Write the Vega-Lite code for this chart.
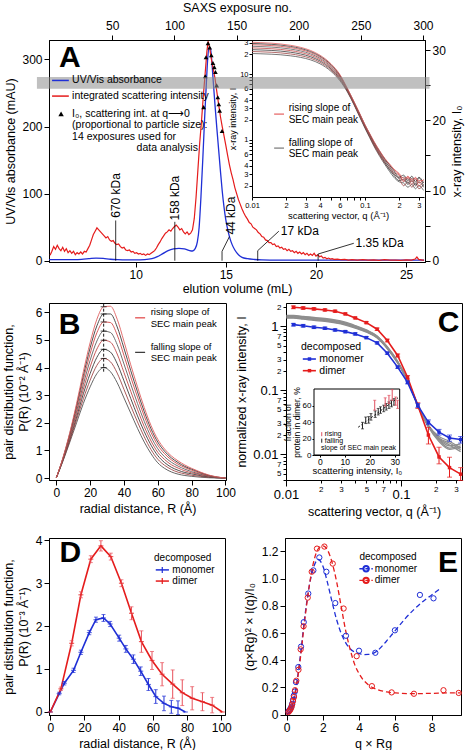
{
"$schema": "https://vega.github.io/schema/vega-lite/v6.json",
"background": "white",
"padding": {"left": 2, "top": 0, "right": 0, "bottom": 0},
"config": {
  "font": "Liberation Sans",
  "view": {"stroke": "black", "strokeWidth": 1},
  "axis": {"grid": false, "domainColor": "black", "domainWidth": 1, "tickColor": "black", "tickWidth": 1, "tickSize": 5, "labelColor": "black", "titleColor": "black", "labelFontSize": 12, "titleFontSize": 12.5, "titleFontWeight": "normal", "labelPadding": 2, "titlePadding": 4, "labelFont": "Liberation Sans", "titleFont": "Liberation Sans", "labelOverlap": false, "labelFlush": false, "labelBound": 40, "labelSeparation": -40},
  "text": {"font": "Liberation Sans", "fontSize": 10, "color": "black"}
},
"datasets": {
  "one": [{}],
  "uv": [{"mL":5.2,"mAU":1.5},{"mL":5.6,"mAU":1.5},{"mL":6.0,"mAU":1.5},{"mL":6.5,"mAU":1.6},{"mL":7.0,"mAU":2},{"mL":7.4,"mAU":3},{"mL":7.8,"mAU":4},{"mL":8.2,"mAU":3.4},{"mL":8.6,"mAU":2.2},{"mL":9.0,"mAU":1.6},{"mL":9.5,"mAU":1.3},{"mL":10.0,"mAU":1.3},{"mL":10.5,"mAU":1.6},{"mL":10.9,"mAU":3},{"mL":11.2,"mAU":6},{"mL":11.5,"mAU":10.5},{"mL":11.8,"mAU":15},{"mL":12.1,"mAU":17.5},{"mL":12.4,"mAU":18.3},{"mL":12.7,"mAU":17.5},{"mL":12.95,"mAU":15.5},{"mL":13.15,"mAU":14.5},{"mL":13.3,"mAU":18},{"mL":13.42,"mAU":28},{"mL":13.52,"mAU":50},{"mL":13.62,"mAU":95},{"mL":13.72,"mAU":150},{"mL":13.82,"mAU":210},{"mL":13.92,"mAU":265},{"mL":14.0,"mAU":303},{"mL":14.08,"mAU":318},{"mL":14.15,"mAU":316},{"mL":14.22,"mAU":298},{"mL":14.3,"mAU":268},{"mL":14.4,"mAU":232},{"mL":14.5,"mAU":198},{"mL":14.6,"mAU":166},{"mL":14.7,"mAU":134},{"mL":14.8,"mAU":104},{"mL":14.9,"mAU":80},{"mL":15.0,"mAU":61},{"mL":15.1,"mAU":47},{"mL":15.2,"mAU":36},{"mL":15.35,"mAU":24},{"mL":15.5,"mAU":16},{"mL":15.7,"mAU":9},{"mL":15.9,"mAU":5},{"mL":16.2,"mAU":3},{"mL":16.6,"mAU":1.8},{"mL":17.0,"mAU":1.2},{"mL":18,"mAU":0.9},{"mL":20,"mAU":0.8},{"mL":22,"mAU":0.8},{"mL":24,"mAU":0.8},{"mL":26,"mAU":0.8}],
  "sc": [{"mL":5.25,"v":8},{"mL":5.35,"v":14},{"mL":5.45,"v":21},{"mL":5.55,"v":17},{"mL":5.65,"v":23},{"mL":5.75,"v":18},{"mL":5.85,"v":15},{"mL":5.95,"v":20},{"mL":6.05,"v":14},{"mL":6.15,"v":18},{"mL":6.25,"v":12},{"mL":6.35,"v":15},{"mL":6.45,"v":11},{"mL":6.55,"v":14},{"mL":6.65,"v":9},{"mL":6.75,"v":12},{"mL":6.85,"v":10},{"mL":6.95,"v":13},{"mL":7.05,"v":10},{"mL":7.15,"v":14},{"mL":7.25,"v":13},{"mL":7.35,"v":18},{"mL":7.45,"v":23},{"mL":7.55,"v":31},{"mL":7.65,"v":39},{"mL":7.75,"v":44},{"mL":7.85,"v":49},{"mL":7.95,"v":46},{"mL":8.05,"v":43},{"mL":8.15,"v":40},{"mL":8.25,"v":37},{"mL":8.35,"v":34},{"mL":8.45,"v":36},{"mL":8.55,"v":31},{"mL":8.65,"v":29},{"mL":8.75,"v":30},{"mL":8.85,"v":26},{"mL":8.95,"v":24},{"mL":9.05,"v":25},{"mL":9.15,"v":21},{"mL":9.25,"v":19},{"mL":9.35,"v":20},{"mL":9.45,"v":16},{"mL":9.55,"v":15},{"mL":9.65,"v":16},{"mL":9.75,"v":13},{"mL":9.85,"v":14},{"mL":9.95,"v":11},{"mL":10.05,"v":12},{"mL":10.15,"v":10},{"mL":10.25,"v":11},{"mL":10.35,"v":9},{"mL":10.45,"v":10},{"mL":10.55,"v":8},{"mL":10.65,"v":10},{"mL":10.75,"v":9},{"mL":10.85,"v":11},{"mL":10.95,"v":13},{"mL":11.05,"v":15},{"mL":11.15,"v":19},{"mL":11.25,"v":24},{"mL":11.35,"v":28},{"mL":11.45,"v":33},{"mL":11.55,"v":37},{"mL":11.65,"v":41},{"mL":11.75,"v":43},{"mL":11.85,"v":46},{"mL":11.95,"v":44},{"mL":12.05,"v":48},{"mL":12.15,"v":51},{"mL":12.25,"v":53},{"mL":12.35,"v":50},{"mL":12.45,"v":46},{"mL":12.55,"v":48},{"mL":12.65,"v":43},{"mL":12.75,"v":40},{"mL":12.85,"v":43},{"mL":12.95,"v":39},{"mL":13.05,"v":41},{"mL":13.15,"v":46},{"mL":13.25,"v":63},{"mL":13.35,"v":95},{"mL":13.45,"v":135},{"mL":13.55,"v":175},{"mL":13.65,"v":208},{"mL":13.75,"v":245},{"mL":13.85,"v":278},{"mL":13.95,"v":312},{"mL":14.02,"v":327},{"mL":14.1,"v":318},{"mL":14.2,"v":300},{"mL":14.3,"v":286},{"mL":14.4,"v":272},{"mL":14.5,"v":252},{"mL":14.6,"v":233},{"mL":14.7,"v":215},{"mL":14.8,"v":200},{"mL":14.9,"v":186},{"mL":15.0,"v":172},{"mL":15.1,"v":157},{"mL":15.2,"v":143},{"mL":15.3,"v":131},{"mL":15.4,"v":121},{"mL":15.5,"v":109},{"mL":15.6,"v":100},{"mL":15.7,"v":91},{"mL":15.8,"v":84},{"mL":15.9,"v":77},{"mL":16.0,"v":71},{"mL":16.1,"v":66},{"mL":16.2,"v":62},{"mL":16.3,"v":57},{"mL":16.4,"v":55},{"mL":16.5,"v":50},{"mL":16.6,"v":48},{"mL":16.7,"v":46},{"mL":16.8,"v":42},{"mL":16.9,"v":40},{"mL":17.0,"v":36},{"mL":17.1,"v":35},{"mL":17.2,"v":31},{"mL":17.3,"v":30},{"mL":17.4,"v":27},{"mL":17.5,"v":27},{"mL":17.6,"v":24},{"mL":17.7,"v":25},{"mL":17.8,"v":21},{"mL":17.9,"v":22},{"mL":18.0,"v":19},{"mL":18.1,"v":20},{"mL":18.2,"v":17},{"mL":18.3,"v":18},{"mL":18.4,"v":15},{"mL":18.5,"v":17},{"mL":18.6,"v":14},{"mL":18.7,"v":15},{"mL":18.8,"v":12},{"mL":18.9,"v":14},{"mL":19.0,"v":11},{"mL":19.1,"v":13},{"mL":19.2,"v":10},{"mL":19.3,"v":12},{"mL":19.4,"v":9},{"mL":19.5,"v":11},{"mL":19.6,"v":8},{"mL":19.7,"v":10},{"mL":19.8,"v":8},{"mL":19.9,"v":11},{"mL":20.0,"v":7},{"mL":20.1,"v":9},{"mL":20.2,"v":6},{"mL":20.3,"v":7},{"mL":20.4,"v":4},{"mL":20.5,"v":5},{"mL":20.6,"v":3},{"mL":20.7,"v":4},{"mL":20.8,"v":2.5},{"mL":20.9,"v":3},{"mL":21.0,"v":2},{"mL":21.2,"v":2.5},{"mL":21.4,"v":1.5},{"mL":21.6,"v":2},{"mL":21.8,"v":1},{"mL":22.0,"v":1.5},{"mL":22.3,"v":0.8},{"mL":22.6,"v":1.5},{"mL":22.9,"v":0.8},{"mL":23.2,"v":1.2},{"mL":23.5,"v":0.5},{"mL":23.8,"v":1.5},{"mL":24.1,"v":0.8},{"mL":24.4,"v":1.0},{"mL":24.7,"v":0.5},{"mL":25.0,"v":1.2},{"mL":25.3,"v":0.8},{"mL":25.5,"v":2.5},{"mL":25.6,"v":5.5},{"mL":25.7,"v":2},{"mL":25.9,"v":0.8},{"mL":26.0,"v":1}],
  "tri": [{"exp":123.5,"I0":21.9},{"exp":124.8,"I0":26.3},{"exp":125.4,"I0":29.0},{"exp":127.0,"I0":31.0},{"exp":128.4,"I0":30.4},{"exp":129.7,"I0":29.3},{"exp":131.0,"I0":28.2},{"exp":132.1,"I0":27.6},{"exp":133.0,"I0":26.9},{"exp":134.0,"I0":25.0},{"exp":134.9,"I0":23.3},{"exp":135.7,"I0":22.3},{"exp":136.4,"I0":21.4},{"exp":138.3,"I0":18.5}],
  "insA": [
{"q":0.01,"c1":20.5,"c2":21.99,"c3":23.47,"c4":24.96,"c5":26.44,"c6":27.93,"c7":29.21,"c8":30.4},
{"q":0.012,"c1":20.3,"c2":21.76,"c3":23.21,"c4":24.67,"c5":26.12,"c6":27.58,"c7":28.84,"c8":30.0},
{"q":0.015,"c1":20.0,"c2":21.41,"c3":22.82,"c4":24.23,"c5":25.64,"c6":27.05,"c7":28.27,"c8":29.4},
{"q":0.018,"c1":19.6,"c2":20.95,"c3":22.3,"c4":23.65,"c5":25.0,"c6":26.35,"c7":27.52,"c8":28.6},
{"q":0.022,"c1":18.9,"c2":20.16,"c3":21.42,"c4":22.68,"c5":23.94,"c6":25.2,"c7":26.29,"c8":27.3},
{"q":0.027,"c1":17.9,"c2":19.03,"c3":20.15,"c4":21.28,"c5":22.4,"c6":23.53,"c7":24.5,"c8":25.4},
{"q":0.033,"c1":16.4,"c2":17.36,"c3":18.32,"c4":19.28,"c5":20.24,"c6":21.2,"c7":22.03,"c8":22.8},
{"q":0.04,"c1":14.3,"c2":15.05,"c3":15.8,"c4":16.55,"c5":17.3,"c6":18.05,"c7":18.7,"c8":19.3},
{"q":0.05,"c1":11.0,"c2":11.5,"c3":11.99,"c4":12.49,"c5":12.98,"c6":13.48,"c7":13.9,"c8":14.3},
{"q":0.06,"c1":7.9,"c2":8.19,"c3":8.47,"c4":8.76,"c5":9.04,"c6":9.33,"c7":9.57,"c8":9.8},
{"q":0.07,"c1":5.3,"c2":5.41,"c3":5.51,"c4":5.62,"c5":5.72,"c6":5.83,"c7":5.92,"c8":6.0},
{"q":0.08,"c1":3.4,"c2":3.46,"c3":3.52,"c4":3.58,"c5":3.64,"c6":3.7,"c7":3.75,"c8":3.8},
{"q":0.09,"c1":2.2,"c2":2.25,"c3":2.29,"c4":2.34,"c5":2.38,"c6":2.43,"c7":2.46,"c8":2.5},
{"q":0.1,"c1":1.5,"c2":1.53,"c3":1.56,"c4":1.59,"c5":1.62,"c6":1.65,"c7":1.68,"c8":1.7},
{"q":0.11,"c1":1.08,"c2":1.11,"c3":1.13,"c4":1.16,"c5":1.18,"c6":1.21,"c7":1.23,"c8":1.25},
{"q":0.12,"c1":0.8,"c2":0.82,"c3":0.85,"c4":0.87,"c5":0.89,"c6":0.91,"c7":0.93,"c8":0.95},
{"q":0.135,"c1":0.56,"c2":0.58,"c3":0.6,"c4":0.61,"c5":0.63,"c6":0.65,"c7":0.67,"c8":0.68},
{"q":0.15,"c1":0.42,"c2":0.44,"c3":0.45,"c4":0.47,"c5":0.48,"c6":0.5,"c7":0.51,"c8":0.52},
{"q":0.165,"c1":0.33,"c2":0.36,"c3":0.35,"c4":0.39,"c5":0.38,"c6":0.42,"c7":0.41,"c8":0.43},
{"q":0.18,"c1":0.27,"c2":0.3,"c3":0.29,"c4":0.32,"c5":0.31,"c6":0.35,"c7":0.34,"c8":0.36},
{"q":0.2,"c1":0.23,"c2":0.26,"c3":0.24,"c4":0.29,"c5":0.26,"c6":0.3,"c7":0.27,"c8":0.31},
{"q":0.22,"c1":0.22,"c2":0.2,"c3":0.25,"c4":0.23,"c5":0.27,"c6":0.24,"c7":0.29,"c8":0.26},
{"q":0.24,"c1":0.19,"c2":0.23,"c3":0.21,"c4":0.26,"c5":0.22,"c6":0.28,"c7":0.24,"c8":0.27},
{"q":0.26,"c1":0.21,"c2":0.19,"c3":0.24,"c4":0.21,"c5":0.26,"c6":0.23,"c7":0.28,"c8":0.25},
{"q":0.28,"c1":0.18,"c2":0.22,"c3":0.2,"c4":0.25,"c5":0.21,"c6":0.27,"c7":0.23,"c8":0.26},
{"q":0.3,"c1":0.2,"c2":0.18,"c3":0.23,"c4":0.2,"c5":0.26,"c6":0.22,"c7":0.27,"c8":0.24},
{"q":0.33,"c1":0.17,"c2":0.21,"c3":0.19,"c4":0.23,"c5":0.2,"c6":0.25,"c7":0.22,"c8":0.24}],
  "pr": [
{"R":0,"c1":0,"c2":0,"c3":0,"c4":0,"c5":0,"c6":0,"c7":0,"c8":0},
{"R":4,"c1":0.62,"c2":0.64,"c3":0.66,"c4":0.68,"c5":0.70,"c6":0.72,"c7":0.73,"c8":0.75},
{"R":8,"c1":1.30,"c2":1.35,"c3":1.41,"c4":1.46,"c5":1.51,"c6":1.56,"c7":1.61,"c8":1.65},
{"R":12,"c1":2.00,"c2":2.11,"c3":2.21,"c4":2.32,"c5":2.42,"c6":2.53,"c7":2.62,"c8":2.70},
{"R":16,"c1":2.70,"c2":2.87,"c3":3.05,"c4":3.22,"c5":3.39,"c6":3.56,"c7":3.71,"c8":3.85},
{"R":20,"c1":3.30,"c2":3.54,"c3":3.78,"c4":4.02,"c5":4.26,"c6":4.50,"c7":4.71,"c8":4.90},
{"R":24,"c1":3.78,"c2":4.08,"c3":4.37,"c4":4.67,"c5":4.96,"c6":5.26,"c7":5.51,"c8":5.75},
{"R":28,"c1":4.00,"c2":4.33,"c3":4.66,"c4":4.99,"c5":5.32,"c6":5.65,"c7":5.94,"c8":6.20},
{"R":32,"c1":3.85,"c2":4.21,"c3":4.56,"c4":4.92,"c5":5.27,"c6":5.63,"c7":5.94,"c8":6.22},
{"R":36,"c1":3.45,"c2":3.80,"c3":4.14,"c4":4.49,"c5":4.83,"c6":5.18,"c7":5.47,"c8":5.75},
{"R":40,"c1":2.90,"c2":3.21,"c3":3.52,"c4":3.82,"c5":4.13,"c6":4.44,"c7":4.70,"c8":4.95},
{"R":44,"c1":2.35,"c2":2.61,"c3":2.88,"c4":3.14,"c5":3.40,"c6":3.66,"c7":3.89,"c8":4.10},
{"R":48,"c1":1.80,"c2":2.03,"c3":2.25,"c4":2.48,"c5":2.70,"c6":2.93,"c7":3.12,"c8":3.30},
{"R":52,"c1":1.30,"c2":1.49,"c3":1.68,"c4":1.86,"c5":2.05,"c6":2.24,"c7":2.40,"c8":2.55},
{"R":56,"c1":0.88,"c2":1.03,"c3":1.19,"c4":1.34,"c5":1.49,"c6":1.65,"c7":1.78,"c8":1.90},
{"R":60,"c1":0.55,"c2":0.68,"c3":0.81,"c4":0.93,"c5":1.06,"c6":1.19,"c7":1.30,"c8":1.40},
{"R":64,"c1":0.35,"c2":0.46,"c3":0.56,"c4":0.67,"c5":0.77,"c6":0.88,"c7":0.97,"c8":1.05},
{"R":68,"c1":0.22,"c2":0.31,"c3":0.39,"c4":0.48,"c5":0.57,"c6":0.66,"c7":0.73,"c8":0.80},
{"R":72,"c1":0.14,"c2":0.21,"c3":0.28,"c4":0.36,"c5":0.43,"c6":0.50,"c7":0.56,"c8":0.62},
{"R":76,"c1":0.09,"c2":0.15,"c3":0.20,"c4":0.26,"c5":0.32,"c6":0.38,"c7":0.42,"c8":0.47},
{"R":80,"c1":0.06,"c2":0.10,"c3":0.15,"c4":0.19,"c5":0.23,"c6":0.28,"c7":0.32,"c8":0.35},
{"R":85,"c1":0.03,"c2":0.06,"c3":0.09,"c4":0.12,"c5":0.14,"c6":0.17,"c7":0.20,"c8":0.22},
{"R":90,"c1":0.01,"c2":0.03,"c3":0.04,"c4":0.06,"c5":0.07,"c6":0.09,"c7":0.10,"c8":0.11},
{"R":95,"c1":0,"c2":0.01,"c3":0.01,"c4":0.02,"c5":0.02,"c6":0.03,"c7":0.035,"c8":0.04},
{"R":100,"c1":0,"c2":0,"c3":0,"c4":0,"c5":0,"c6":0,"c7":0,"c8":0}],
  "prpk": [{"R":28,"P":4.0},{"R":28,"P":4.33},{"R":28,"P":4.66},{"R":28,"P":4.99},{"R":28,"P":5.32},{"R":28,"P":5.65},{"R":28,"P":5.94},{"R":28,"P":6.2}],
  "cGray": [
{"q":0.0101,"g1":1.34,"g2":1.368,"g3":1.396,"g4":1.424,"g5":1.452,"g6":1.48},
{"q":0.0116,"g1":1.336,"g2":1.364,"g3":1.391,"g4":1.419,"g5":1.446,"g6":1.474},
{"q":0.0141,"g1":1.293,"g2":1.320,"g3":1.348,"g4":1.375,"g5":1.402,"g6":1.430},
{"q":0.0175,"g1":1.237,"g2":1.264,"g3":1.291,"g4":1.318,"g5":1.345,"g6":1.372},
{"q":0.0218,"g1":1.191,"g2":1.217,"g3":1.243,"g4":1.269,"g5":1.295,"g6":1.322},
{"q":0.0267,"g1":1.129,"g2":1.155,"g3":1.180,"g4":1.205,"g5":1.230,"g6":1.256},
{"q":0.0328,"g1":1.046,"g2":1.068,"g3":1.090,"g4":1.112,"g5":1.134,"g6":1.156},
{"q":0.04,"g1":0.937,"g2":0.955,"g3":0.972,"g4":0.990,"g5":1.008,"g6":1.026},
{"q":0.05,"g1":0.808,"g2":0.822,"g3":0.836,"g4":0.850,"g5":0.865,"g6":0.879},
{"q":0.062,"g1":0.655,"g2":0.666,"g3":0.676,"g4":0.687,"g5":0.697,"g6":0.708},
{"q":0.076,"g1":0.446,"g2":0.453,"g3":0.459,"g4":0.466,"g5":0.472,"g6":0.479},
{"q":0.0935,"g1":0.266,"g2":0.270,"g3":0.273,"g4":0.277,"g5":0.280,"g6":0.284},
{"q":0.114,"g1":0.141,"g2":0.142,"g3":0.143,"g4":0.144,"g5":0.144,"g6":0.145},
{"q":0.14,"g1":0.057,"g2":0.058,"g3":0.059,"g4":0.058,"g5":0.057,"g6":0.059},
{"q":0.173,"g1":0.0284,"g2":0.0281,"g3":0.0278,"g4":0.0275,"g5":0.0271,"g6":0.0268},
{"q":0.214,"g1":0.0190,"g2":0.0172,"g3":0.0180,"g4":0.0165,"g5":0.0175,"g6":0.0158},
{"q":0.264,"g1":0.0160,"g2":0.0135,"g3":0.0150,"g4":0.0125,"g5":0.0140,"g6":0.0120},
{"q":0.33,"g1":0.0125,"g2":0.0145,"g3":0.0118,"g4":0.0135,"g5":0.0110,"g6":0.0128}],
  "cRed": [{"q":0.0116,"I":1.98,"lo":1.88,"hi":2.08},{"q":0.0141,"I":1.93,"lo":1.84,"hi":2.02},{"q":0.0175,"I":1.87,"lo":1.79,"hi":1.95},{"q":0.0218,"I":1.80,"lo":1.73,"hi":1.87},{"q":0.0267,"I":1.72,"lo":1.66,"hi":1.78},{"q":0.0328,"I":1.56,"lo":1.51,"hi":1.61},{"q":0.04,"I":1.35,"lo":1.31,"hi":1.39},{"q":0.05,"I":1.14,"lo":1.10,"hi":1.18},{"q":0.062,"I":0.90,"lo":0.86,"hi":0.94},{"q":0.076,"I":0.60,"lo":0.57,"hi":0.63},{"q":0.0935,"I":0.35,"lo":0.33,"hi":0.37},{"q":0.114,"I":0.16,"lo":0.15,"hi":0.17},{"q":0.14,"I":0.058,"lo":0.052,"hi":0.064},{"q":0.173,"I":0.020,"lo":0.0145,"hi":0.0263},{"q":0.214,"I":0.0091,"lo":0.0071,"hi":0.0129},{"q":0.264,"I":0.0062,"lo":0.0044,"hi":0.009},{"q":0.33,"I":0.0049,"lo":0.0039,"hi":0.0062}],
  "cBlue": [{"q":0.0116,"I":1.06,"lo":1.01,"hi":1.11},{"q":0.0141,"I":1.02,"lo":0.97,"hi":1.07},{"q":0.0175,"I":0.965,"lo":0.92,"hi":1.01},{"q":0.0218,"I":0.93,"lo":0.89,"hi":0.97},{"q":0.0267,"I":0.876,"lo":0.84,"hi":0.91},{"q":0.0328,"I":0.825,"lo":0.79,"hi":0.86},{"q":0.04,"I":0.76,"lo":0.73,"hi":0.79},{"q":0.05,"I":0.665,"lo":0.64,"hi":0.69},{"q":0.062,"I":0.55,"lo":0.53,"hi":0.57},{"q":0.076,"I":0.38,"lo":0.365,"hi":0.395},{"q":0.0935,"I":0.23,"lo":0.22,"hi":0.24},{"q":0.114,"I":0.133,"lo":0.126,"hi":0.14},{"q":0.14,"I":0.058,"lo":0.054,"hi":0.062},{"q":0.173,"I":0.0316,"lo":0.029,"hi":0.0345},{"q":0.214,"I":0.0222,"lo":0.02,"hi":0.0245},{"q":0.264,"I":0.018,"lo":0.016,"hi":0.02},{"q":0.33,"I":0.017,"lo":0.015,"hi":0.019}],
  "cInF": [{"I0":17.1,"lo":32,"hi":40},{"I0":18.4,"lo":38.5,"hi":46.5},{"I0":19.6,"lo":39,"hi":47},{"I0":20.5,"lo":42.7,"hi":50.7},{"I0":22.2,"lo":46,"hi":54},{"I0":23.4,"lo":49,"hi":57},{"I0":24.3,"lo":51,"hi":59},{"I0":25.6,"lo":53,"hi":61},{"I0":26.6,"lo":55,"hi":63},{"I0":27.7,"lo":57,"hi":65},{"I0":28.7,"lo":59,"hi":67},{"I0":29.7,"lo":61,"hi":69}],
  "cInR": [{"I0":22.0,"lo":55,"hi":67},{"I0":26.2,"lo":60,"hi":70},{"I0":27.7,"lo":63,"hi":73},{"I0":29.0,"lo":67,"hi":80},{"I0":30.4,"lo":61,"hi":71},{"I0":31.2,"lo":57,"hi":67}],
  "cFit": [{"I0":15.4,"f":34},{"I0":31.3,"f":70}],
  "dRed": [{"R":0,"P":0,"lo":0,"hi":0},{"R":6.2,"P":0.54,"lo":0.50,"hi":0.58},{"R":12.5,"P":1.6,"lo":1.54,"hi":1.66},{"R":17.9,"P":2.73,"lo":2.66,"hi":2.80},{"R":23.7,"P":3.56,"lo":3.48,"hi":3.64},{"R":29.6,"P":3.87,"lo":3.75,"hi":3.99},{"R":35.4,"P":3.62,"lo":3.54,"hi":3.70},{"R":41.6,"P":3.0,"lo":2.92,"hi":3.08},{"R":47.5,"P":2.3,"lo":2.15,"hi":2.45},{"R":53.3,"P":1.64,"lo":1.39,"hi":1.89},{"R":59.5,"P":1.2,"lo":0.99,"hi":1.41},{"R":65.4,"P":0.88,"lo":0.61,"hi":1.15},{"R":71.6,"P":0.65,"lo":0.32,"hi":0.98},{"R":77.2,"P":0.45,"lo":0.15,"hi":0.75},{"R":83,"P":0.32,"lo":0.05,"hi":0.59},{"R":89,"P":0.24,"lo":0.03,"hi":0.45},{"R":94.7,"P":0.16,"lo":-0.02,"hi":0.34},{"R":100.6,"P":0,"lo":0,"hi":0}],
  "dBlue": [{"R":0,"P":0,"lo":0,"hi":0},{"R":5.2,"P":0.43,"lo":0.40,"hi":0.46},{"R":8.2,"P":0.67,"lo":0.63,"hi":0.71},{"R":13.6,"P":0.97,"lo":0.92,"hi":1.02},{"R":17.9,"P":1.39,"lo":1.34,"hi":1.44},{"R":22.8,"P":1.85,"lo":1.80,"hi":1.90},{"R":26.7,"P":2.15,"lo":2.09,"hi":2.21},{"R":31.1,"P":2.19,"lo":2.11,"hi":2.27},{"R":35,"P":2.05,"lo":1.99,"hi":2.11},{"R":40.3,"P":1.72,"lo":1.65,"hi":1.79},{"R":44.2,"P":1.47,"lo":1.39,"hi":1.55},{"R":48.6,"P":1.23,"lo":1.13,"hi":1.33},{"R":52.9,"P":0.95,"lo":0.85,"hi":1.05},{"R":57.4,"P":0.64,"lo":0.50,"hi":0.78},{"R":61.7,"P":0.36,"lo":0.20,"hi":0.52},{"R":66.5,"P":0.2,"lo":0.03,"hi":0.37},{"R":70.8,"P":0.12,"lo":-0.03,"hi":0.27},{"R":74.7,"P":0.09,"lo":-0.06,"hi":0.26},{"R":79,"P":0,"lo":0,"hi":0}],
  "eMono": [{"x":0.1,"y":0.025},{"x":0.16,"y":0.035},{"x":0.21,"y":0.045},{"x":0.26,"y":0.06},{"x":0.3,"y":0.08},{"x":0.35,"y":0.11},{"x":0.39,"y":0.14},{"x":0.45,"y":0.17},{"x":0.51,"y":0.24},{"x":0.64,"y":0.35},{"x":0.79,"y":0.5},{"x":0.94,"y":0.68},{"x":1.19,"y":0.89},{"x":1.47,"y":1.06},{"x":1.8,"y":1.155},{"x":2.19,"y":1.05},{"x":2.68,"y":0.82},{"x":3.27,"y":0.58},{"x":3.99,"y":0.47},{"x":4.89,"y":0.455},{"x":5.97,"y":0.62},{"x":7.35,"y":0.88},{"x":8.1,"y":0.855}],
  "eDim": [{"x":0.1,"y":0.02},{"x":0.16,"y":0.03},{"x":0.21,"y":0.04},{"x":0.26,"y":0.055},{"x":0.3,"y":0.075},{"x":0.35,"y":0.1},{"x":0.4,"y":0.13},{"x":0.46,"y":0.18},{"x":0.53,"y":0.25},{"x":0.65,"y":0.33},{"x":0.77,"y":0.48},{"x":0.93,"y":0.65},{"x":1.16,"y":0.86},{"x":1.38,"y":1.05},{"x":1.67,"y":1.22},{"x":2.08,"y":1.235},{"x":2.54,"y":1.11},{"x":3.14,"y":0.78},{"x":3.86,"y":0.43},{"x":4.7,"y":0.21},{"x":5.79,"y":0.164},{"x":7.02,"y":0.154},{"x":8.65,"y":0.18},{"x":9.49,"y":0.16}],
  "eMonoFit": [{"x":0,"y":0},{"x":0.25,"y":0.05},{"x":0.5,"y":0.19},{"x":0.75,"y":0.43},{"x":1.0,"y":0.72},{"x":1.25,"y":0.95},{"x":1.5,"y":1.09},{"x":1.75,"y":1.14},{"x":2.0,"y":1.09},{"x":2.25,"y":0.97},{"x":2.5,"y":0.83},{"x":2.75,"y":0.7},{"x":3.0,"y":0.6},{"x":3.25,"y":0.53},{"x":3.5,"y":0.485},{"x":3.75,"y":0.46},{"x":4.0,"y":0.448},{"x":4.25,"y":0.442},{"x":4.5,"y":0.443},{"x":4.75,"y":0.45},{"x":5.0,"y":0.47},{"x":5.5,"y":0.54},{"x":6.0,"y":0.62},{"x":6.5,"y":0.7},{"x":7.0,"y":0.77},{"x":7.5,"y":0.83},{"x":8.0,"y":0.88},{"x":8.4,"y":0.92}],
  "eDimFit": [{"x":0,"y":0},{"x":0.25,"y":0.045},{"x":0.5,"y":0.18},{"x":0.75,"y":0.41},{"x":1.0,"y":0.7},{"x":1.25,"y":0.95},{"x":1.5,"y":1.13},{"x":1.75,"y":1.22},{"x":2.0,"y":1.24},{"x":2.25,"y":1.21},{"x":2.5,"y":1.12},{"x":2.75,"y":0.98},{"x":3.0,"y":0.8},{"x":3.25,"y":0.62},{"x":3.5,"y":0.48},{"x":3.75,"y":0.37},{"x":4.0,"y":0.3},{"x":4.5,"y":0.22},{"x":5.0,"y":0.185},{"x":5.5,"y":0.168},{"x":6.0,"y":0.16},{"x":7.0,"y":0.155},{"x":8.0,"y":0.157},{"x":9.0,"y":0.16},{"x":9.6,"y":0.16}]
},
"vconcat": [
 {"vconcat": [
  {"width": 376, "height": 222,
   "layer": [
    {"layer": [
      {"data": {"name": "uv"}, "mark": {"type": "line", "color": "#1f2fd6", "strokeWidth": 1.3, "interpolate": "monotone"},
       "encoding": {
        "x": {"field": "mL", "type": "quantitative", "scale": {"domain": [5.19, 26.05], "nice": false, "zero": false}, "axis": {"orient": "bottom", "values": [10, 15, 20, 25], "title": "elution volume (mL)", "titlePadding": 2, "titleFontWeight": "normal"}},
        "y": {"field": "mAU", "type": "quantitative", "scale": {"domain": [-1.9, 329], "nice": false, "zero": false}, "axis": {"orient": "left", "values": [0, 50, 100, 150, 200, 250, 300], "title": "UV/Vis absorbance (mAU)"}}}},
      {"data": {"name": "sc"}, "mark": {"type": "line", "color": "#e51c1c", "strokeWidth": 1.2}, "encoding": {"x": {"field": "mL", "type": "quantitative"}, "y": {"field": "v", "type": "quantitative"}}},
      {"data": {"name": "one"}, "mark": {"type": "rule", "color": "black", "strokeWidth": 0.8}, "encoding": {"x": {"datum": 8.89}, "y": {"datum": 0}, "y2": {"datum": 60}}},
      {"data": {"name": "one"}, "mark": {"type": "rule", "color": "black", "strokeWidth": 0.8}, "encoding": {"x": {"datum": 12.17}, "y": {"datum": 0}, "y2": {"datum": 58}}},
      {"data": {"name": "one"}, "mark": {"type": "rule", "color": "black", "strokeWidth": 0.8}, "encoding": {"x": {"datum": 14.79}, "y": {"datum": 0}, "y2": {"datum": 14}}},
      {"data": {"name": "one"}, "mark": {"type": "rule", "color": "black", "strokeWidth": 0.8}, "encoding": {"x": {"datum": 14.79}, "x2": {"datum": 15.2}, "y": {"datum": 14}, "y2": {"datum": 36}}},
      {"data": {"name": "one"}, "mark": {"type": "rule", "color": "black", "strokeWidth": 0.8}, "encoding": {"x": {"datum": 16.77}, "y": {"datum": 0}, "y2": {"datum": 15}}},
      {"data": {"name": "one"}, "mark": {"type": "rule", "color": "black", "strokeWidth": 0.8}, "encoding": {"x": {"datum": 16.77}, "x2": {"datum": 17.94}, "y": {"datum": 15}, "y2": {"datum": 44}}},
      {"data": {"name": "one"}, "mark": {"type": "rule", "color": "black", "strokeWidth": 0.8}, "encoding": {"x": {"datum": 20.12}, "y": {"datum": 0}, "y2": {"datum": 10}}},
      {"data": {"name": "one"}, "mark": {"type": "rule", "color": "black", "strokeWidth": 0.8}, "encoding": {"x": {"datum": 20.12}, "x2": {"datum": 22.1}, "y": {"datum": 10}, "y2": {"datum": 26}}},
      {"data": {"name": "one"}, "mark": {"type": "text", "angle": 270, "align": "left", "baseline": "middle", "fontSize": 12}, "encoding": {"x": {"datum": 8.89}, "y": {"datum": 64}, "text": {"value": "670 kDa"}}},
      {"data": {"name": "one"}, "mark": {"type": "text", "angle": 270, "align": "left", "baseline": "middle", "fontSize": 12}, "encoding": {"x": {"datum": 12.17}, "y": {"datum": 60}, "text": {"value": "158 kDa"}}},
      {"data": {"name": "one"}, "mark": {"type": "text", "angle": 270, "align": "left", "baseline": "middle", "fontSize": 12}, "encoding": {"x": {"datum": 15.27}, "y": {"datum": 39}, "text": {"value": "44 kDa"}}},
      {"data": {"name": "one"}, "mark": {"type": "text", "align": "left", "baseline": "middle", "fontSize": 12}, "encoding": {"x": {"datum": 18.05}, "y": {"datum": 44}, "text": {"value": "17 kDa"}}},
      {"data": {"name": "one"}, "mark": {"type": "text", "align": "left", "baseline": "middle", "fontSize": 12}, "encoding": {"x": {"datum": 22.2}, "y": {"datum": 26}, "text": {"value": "1.35 kDa"}}}
    ]},
    {"data": {"name": "tri"}, "mark": {"type": "point", "shape": "triangle-up", "filled": true, "color": "black", "size": 22, "opacity": 1},
     "encoding": {
      "x": {"field": "exp", "type": "quantitative", "scale": {"domain": [-0.9, 301.6], "nice": false, "zero": false}, "axis": {"orient": "top", "values": [50, 100, 150, 200, 250, 300], "title": "SAXS exposure no.", "labelPadding": 3, "titlePadding": 5}},
      "y": {"field": "I0", "type": "quantitative", "scale": {"domain": [-0.19, 31.47], "nice": false, "zero": false}, "axis": {"orient": "right", "values": [0, 5, 10, 15, 20, 25, 30], "labelExpr": "datum.value % 10 == 0 ? datum.label : ''", "title": "x-ray intensity, I₀", "titleAngle": 270, "titleBaseline": "top", "titlePadding": 5}}}},
    {"layer": [
      {"data": {"name": "insA"}, "transform": [{"fold": ["c1", "c2", "c3", "c4", "c5", "c6", "c7", "c8"], "as": ["cv", "I"]}],
       "mark": {"type": "line", "strokeWidth": 0.8, "interpolate": "monotone"},
       "encoding": {
        "x": {"field": "q", "type": "quantitative", "scale": {"type": "log", "domain": [0.01, 0.333], "range": [203, 375], "nice": false},
              "axis": {"orient": "bottom", "offset": -65, "values": [0.01, 0.02, 0.03, 0.04, 0.05, 0.06, 0.07, 0.08, 0.09, 0.1, 0.2, 0.3],
                       "labelExpr": "round(datum.value/pow(10,floor(log(datum.value)/LN10+1e-6)))==1 ? ''+datum.value : (indexof([2,3,4,6],round(datum.value/pow(10,floor(log(datum.value)/LN10+1e-6))))>=0 ? ''+round(datum.value/pow(10,floor(log(datum.value)/LN10+1e-6))) : '')",
                       "labelFontSize": 7.5, "tickSize": 3, "labelPadding": 1, "title": "scattering vector, q (Å⁻¹)", "titleFontSize": 9.5, "titlePadding": 2}},
        "y": {"field": "I", "type": "quantitative", "scale": {"type": "log", "domain": [0.135, 32.9], "range": [157, 0], "nice": false},
              "axis": {"orient": "left", "offset": -203, "values": [0.2, 0.3, 0.4, 0.5, 0.6, 0.7, 0.8, 0.9, 1, 2, 3, 4, 5, 6, 7, 8, 9, 10, 20, 30],
                       "labelExpr": "round(datum.value/pow(10,floor(log(datum.value)/LN10+1e-6)))==1 ? ''+datum.value : (indexof([2,3,4,6],round(datum.value/pow(10,floor(log(datum.value)/LN10+1e-6))))>=0 ? ''+round(datum.value/pow(10,floor(log(datum.value)/LN10+1e-6))) : '')",
                       "labelFontSize": 7.5, "tickSize": 3, "labelPadding": 1, "title": "x-ray intensity, I", "titleFontSize": 9, "titlePadding": 2}},
        "color": {"field": "cv", "type": "nominal", "scale": {"domain": ["c1", "c2", "c3", "c4", "c5", "c6", "c7", "c8"], "range": ["#555555", "#a04848", "#3c3c3c", "#c04848", "#606060", "#d04a4a", "#3a3a3a", "#e06060"]}, "legend": null}}},
      {"data": {"name": "one"}, "mark": {"type": "rule", "color": "#e04040", "strokeWidth": 1}, "encoding": {"x": {"datum": 0.0157}, "x2": {"datum": 0.0192}, "y": {"datum": 2.46}}},
      {"data": {"name": "one"}, "mark": {"type": "rule", "color": "#777777", "strokeWidth": 1.2}, "encoding": {"x": {"datum": 0.0157}, "x2": {"datum": 0.0192}, "y": {"datum": 0.748}}},
      {"data": {"name": "one"}, "mark": {"type": "text", "align": "left", "baseline": "middle", "fontSize": 10, "lineBreak": "\n", "lineHeight": 11.5}, "encoding": {"x": {"datum": 0.0211}, "y": {"datum": 3.0}, "text": {"value": "rising slope of\nSEC main peak"}}},
      {"data": {"name": "one"}, "mark": {"type": "text", "align": "left", "baseline": "middle", "fontSize": 10, "lineBreak": "\n", "lineHeight": 11.5}, "encoding": {"x": {"datum": 0.0211}, "y": {"datum": 0.9}, "text": {"value": "falling slope of\nSEC main peak"}}}
    ]},
    {"layer": [
      {"data": {"name": "one"}, "mark": {"type": "rect", "color": "#8c8c8c", "opacity": 0.55},
       "encoding": {"x": {"datum": 4.52, "scale": {"domain": [5.19, 26.05], "nice": false, "zero": false}, "axis": null}, "x2": {"datum": 26.3},
                    "y": {"datum": 256.3, "scale": {"domain": [-1.9, 329], "nice": false, "zero": false}, "axis": null}, "y2": {"datum": 273.7}}},
      {"data": {"name": "one"}, "mark": {"type": "rule", "color": "#1f2fd6", "strokeWidth": 1.5}, "encoding": {"x": {"datum": 5.36, "axis": null}, "x2": {"datum": 6.29}, "y": {"datum": 268.7, "axis": null}}},
      {"data": {"name": "one"}, "mark": {"type": "rule", "color": "#e51c1c", "strokeWidth": 1.5}, "encoding": {"x": {"datum": 5.36, "axis": null}, "x2": {"datum": 6.29}, "y": {"datum": 245.4, "axis": null}}},
      {"data": {"name": "one"}, "mark": {"type": "point", "shape": "triangle-up", "filled": true, "color": "black", "size": 30, "opacity": 1}, "encoding": {"x": {"datum": 5.86, "axis": null}, "y": {"datum": 219, "axis": null}}},
      {"data": {"name": "one"}, "mark": {"type": "text", "align": "left", "baseline": "middle", "fontSize": 10.5}, "encoding": {"x": {"datum": 6.47, "axis": null}, "y": {"datum": 268.7, "axis": null}, "text": {"value": "UV/Vis absorbance"}}},
      {"data": {"name": "one"}, "mark": {"type": "text", "align": "left", "baseline": "middle", "fontSize": 10.5}, "encoding": {"x": {"datum": 6.47, "axis": null}, "y": {"datum": 245.4, "axis": null}, "text": {"value": "integrated scattering intensity"}}},
      {"data": {"name": "one"}, "mark": {"type": "text", "align": "left", "baseline": "middle", "fontSize": 10.5, "lineBreak": "\n", "lineHeight": 11.7}, "encoding": {"x": {"datum": 6.47, "axis": null}, "y": {"datum": 219, "axis": null}, "text": {"value": "I₀, scattering int. at q⟶0\n(proportional to particle size):\n14 exposures used for"}}},
      {"data": {"name": "one"}, "mark": {"type": "text", "align": "left", "baseline": "middle", "fontSize": 10.5}, "encoding": {"x": {"datum": 10.05, "axis": null}, "y": {"datum": 167.7, "axis": null}, "text": {"value": "data analysis"}}},
      {"data": {"name": "one"}, "mark": {"type": "text", "align": "left", "baseline": "alphabetic", "fontSize": 30, "fontWeight": "bold"}, "encoding": {"x": {"datum": 5.74, "axis": null}, "y": {"datum": 289, "axis": null}, "text": {"value": "A"}}}
    ]}
   ],
   "resolve": {"scale": {"x": "independent", "y": "independent"}, "axis": {"x": "independent", "y": "independent"}}
  },
  {"hconcat": [
    {"width": 177, "height": 177,
     "layer": [
      {"data": {"name": "pr"}, "transform": [{"fold": ["c1", "c2", "c3", "c4", "c5", "c6", "c7", "c8"], "as": ["cv", "P"]}],
       "mark": {"type": "line", "strokeWidth": 0.9, "interpolate": "monotone"},
       "encoding": {
        "x": {"field": "R", "type": "quantitative", "scale": {"domain": [-4.3, 100.3], "nice": false, "zero": false}, "axis": {"values": [0, 20, 40, 60, 80, 100], "tickCount": 6, "title": "radial distance, R (Å)"}},
        "y": {"field": "P", "type": "quantitative", "scale": {"domain": [-0.072, 6.337], "nice": false, "zero": false}, "axis": {"values": [0, 1, 2, 3, 4, 5, 6], "tickCount": 7, "title": ["pair distribution function,", "P(R)  (10⁻² Å⁻¹)"], "titlePadding": 5}},
        "color": {"field": "cv", "type": "nominal", "scale": {"domain": ["c1", "c2", "c3", "c4", "c5", "c6", "c7", "c8"], "range": ["#555555", "#a04848", "#3c3c3c", "#c04848", "#606060", "#d04a4a", "#3a3a3a", "#e06060"]}, "legend": null}}},
      {"data": {"name": "one"}, "mark": {"type": "rule", "color": "black", "strokeDash": [3, 2], "strokeWidth": 0.9}, "encoding": {"x": {"datum": 28}, "y": {"datum": 3.85}, "y2": {"datum": 6.35}}},
      {"data": {"name": "prpk"}, "mark": {"type": "tick", "orient": "horizontal", "size": 6, "thickness": 1, "color": "black"}, "encoding": {"x": {"field": "R", "type": "quantitative"}, "y": {"field": "P", "type": "quantitative"}}},
      {"data": {"name": "one"}, "mark": {"type": "rule", "color": "#e04040", "strokeWidth": 1.2}, "encoding": {"x": {"datum": 46.6}, "x2": {"datum": 52.5}, "y": {"datum": 5.8}}},
      {"data": {"name": "one"}, "mark": {"type": "rule", "color": "#333333", "strokeWidth": 1.2}, "encoding": {"x": {"datum": 46.6}, "x2": {"datum": 52.5}, "y": {"datum": 4.55}}},
      {"data": {"name": "one"}, "mark": {"type": "text", "align": "left", "baseline": "middle", "fontSize": 9.5, "lineBreak": "\n", "lineHeight": 11.7}, "encoding": {"x": {"datum": 55.8}, "y": {"datum": 6.0}, "text": {"value": "rising slope of\nSEC main peak"}}},
      {"data": {"name": "one"}, "mark": {"type": "text", "align": "left", "baseline": "middle", "fontSize": 9.5, "lineBreak": "\n", "lineHeight": 11.7}, "encoding": {"x": {"datum": 55.8}, "y": {"datum": 4.76}, "text": {"value": "falling slope of\nSEC main peak"}}},
      {"data": {"name": "one"}, "mark": {"type": "text", "align": "left", "baseline": "alphabetic", "fontSize": 30, "fontWeight": "bold"}, "encoding": {"x": {"datum": 1.4}, "y": {"datum": 5.22}, "text": {"value": "B"}}}
     ]},
    {"width": 176, "height": 177,
     "layer": [
      {"layer": [
        {"data": {"name": "cGray"}, "transform": [{"fold": ["g1", "g2", "g3", "g4", "g5", "g6"], "as": ["g", "I"]}],
         "mark": {"type": "line", "strokeWidth": 1.3, "color": "#8e8e8e", "interpolate": "monotone"},
         "encoding": {
          "x": {"field": "q", "type": "quantitative", "title": "scattering vector, q (Å⁻¹)", "scale": {"type": "log", "domain": [0.01, 0.339], "nice": false},
                "axis": {"values": [0.01, 0.02, 0.03, 0.04, 0.05, 0.06, 0.07, 0.08, 0.09, 0.1, 0.2, 0.3], "title": "scattering vector, q (Å⁻¹)", "titlePadding": 4,
                         "labelExpr": "round(datum.value/pow(10,floor(log(datum.value)/LN10+1e-6)))==1 ? ''+datum.value : (indexof([2,3,5,7],round(datum.value/pow(10,floor(log(datum.value)/LN10+1e-6))))>=0 ? ''+round(datum.value/pow(10,floor(log(datum.value)/LN10+1e-6))) : '')",
                         "labelFontSize": {"condition": {"test": "round(datum.value/pow(10,floor(log(datum.value)/LN10+1e-6)))==1", "value": 13}, "value": 8},
                         "tickSize": {"condition": {"test": "round(datum.value/pow(10,floor(log(datum.value)/LN10+1e-6)))==1", "value": 6}, "value": 3}}},
          "y": {"field": "I", "type": "quantitative", "title": "normalized x-ray intensity, I", "scale": {"type": "log", "domain": [0.00397, 2.31], "nice": false},
                "axis": {"values": [0.004, 0.005, 0.006, 0.007, 0.008, 0.009, 0.01, 0.02, 0.03, 0.04, 0.05, 0.06, 0.07, 0.08, 0.09, 0.1, 0.2, 0.3, 0.4, 0.5, 0.6, 0.7, 0.8, 0.9, 1, 2], "title": "normalized x-ray intensity, I", "titlePadding": 4,
                         "labelExpr": "round(datum.value/pow(10,floor(log(datum.value)/LN10+1e-6)))==1 ? ''+datum.value : (indexof([2,3,5,7],round(datum.value/pow(10,floor(log(datum.value)/LN10+1e-6))))>=0 ? ''+round(datum.value/pow(10,floor(log(datum.value)/LN10+1e-6))) : '')",
                         "labelFontSize": {"condition": {"test": "round(datum.value/pow(10,floor(log(datum.value)/LN10+1e-6)))==1", "value": 13}, "value": 8},
                         "tickSize": {"condition": {"test": "round(datum.value/pow(10,floor(log(datum.value)/LN10+1e-6)))==1", "value": 6}, "value": 3}}},
          "detail": {"field": "g", "type": "nominal"}}},
        {"data": {"name": "cRed"}, "mark": {"type": "errorbar", "ticks": true, "color": "#e51c1c"}, "encoding": {"x": {"field": "q", "type": "quantitative", "title": "scattering vector, q (Å⁻¹)"}, "y": {"field": "lo", "type": "quantitative", "title": "normalized x-ray intensity, I"}, "y2": {"field": "hi"}}},
        {"data": {"name": "cRed"}, "mark": {"type": "line", "color": "#e51c1c", "strokeWidth": 1.6, "point": {"shape": "square", "size": 12, "filled": true, "color": "#e51c1c"}}, "encoding": {"x": {"field": "q", "type": "quantitative", "title": "scattering vector, q (Å⁻¹)"}, "y": {"field": "I", "type": "quantitative", "title": "normalized x-ray intensity, I"}}},
        {"data": {"name": "cBlue"}, "mark": {"type": "errorbar", "ticks": true, "color": "#1f2fd6"}, "encoding": {"x": {"field": "q", "type": "quantitative", "title": "scattering vector, q (Å⁻¹)"}, "y": {"field": "lo", "type": "quantitative", "title": "normalized x-ray intensity, I"}, "y2": {"field": "hi"}}},
        {"data": {"name": "cBlue"}, "mark": {"type": "line", "color": "#1f2fd6", "strokeWidth": 1.6, "point": {"shape": "square", "size": 12, "filled": true, "color": "#1f2fd6"}}, "encoding": {"x": {"field": "q", "type": "quantitative", "title": "scattering vector, q (Å⁻¹)"}, "y": {"field": "I", "type": "quantitative", "title": "normalized x-ray intensity, I"}}},
        {"data": {"name": "one"}, "mark": {"type": "text", "align": "left", "baseline": "middle", "fontSize": 10.5}, "encoding": {"x": {"datum": 0.0135}, "y": {"datum": 0.48}, "text": {"value": "decomposed"}}},
        {"data": {"name": "one"}, "mark": {"type": "rule", "color": "#1f2fd6", "strokeWidth": 1.6}, "encoding": {"x": {"datum": 0.014}, "x2": {"datum": 0.0182}, "y": {"datum": 0.308}}},
        {"data": {"name": "one"}, "mark": {"type": "rule", "color": "#e51c1c", "strokeWidth": 1.6}, "encoding": {"x": {"datum": 0.014}, "x2": {"datum": 0.0182}, "y": {"datum": 0.2025}}},
        {"data": {"name": "one"}, "mark": {"type": "point", "shape": "square", "size": 12, "filled": true, "color": "#1f2fd6", "opacity": 1}, "encoding": {"x": {"datum": 0.016}, "y": {"datum": 0.308}}},
        {"data": {"name": "one"}, "mark": {"type": "point", "shape": "square", "size": 12, "filled": true, "color": "#e51c1c", "opacity": 1}, "encoding": {"x": {"datum": 0.016}, "y": {"datum": 0.2025}}},
        {"data": {"name": "one"}, "mark": {"type": "text", "align": "left", "baseline": "middle", "fontSize": 10.5}, "encoding": {"x": {"datum": 0.0195}, "y": {"datum": 0.308}, "text": {"value": "monomer"}}},
        {"data": {"name": "one"}, "mark": {"type": "text", "align": "left", "baseline": "middle", "fontSize": 10.5}, "encoding": {"x": {"datum": 0.0195}, "y": {"datum": 0.2025}, "text": {"value": "dimer"}}},
        {"data": {"name": "one"}, "mark": {"type": "text", "align": "right", "baseline": "alphabetic", "fontSize": 30, "fontWeight": "bold"}, "encoding": {"x": {"datum": 0.322}, "y": {"datum": 0.806}, "text": {"value": "C"}}}
      ]},
      {"layer": [
        {"data": {"name": "one"}, "mark": {"type": "rect", "fill": "white", "stroke": "black", "strokeWidth": 1},
         "encoding": {"x": {"datum": -2.3, "type": "quantitative", "scale": {"domain": [-2.3, 32], "range": [28, 113.7], "nice": false, "zero": false},
                            "axis": {"orient": "bottom", "offset": -25, "values": [0, 10, 20, 30], "labelFontSize": 8.5, "tickSize": 2, "labelPadding": 0, "title": "scattering intensity, I₀", "titleFontSize": 9.5, "titlePadding": 0}},
                      "x2": {"datum": 32},
                      "y": {"datum": 0, "type": "quantitative", "scale": {"domain": [0, 80.8], "range": [152, 86], "nice": false, "zero": false},
                            "axis": {"orient": "left", "offset": -28, "values": [0, 20, 40, 60], "labelFontSize": 8, "tickSize": 2, "labelPadding": 1, "title": ["fraction of", "protein in dimer, %"], "titleFontSize": 8.5, "titlePadding": 1, "titleLineHeight": 9}},
                      "y2": {"datum": 80.8}}},
        {"data": {"name": "cFit"}, "mark": {"type": "line", "color": "black", "strokeDash": [2, 2], "strokeWidth": 1}, "encoding": {"x": {"field": "I0", "type": "quantitative"}, "y": {"field": "f", "type": "quantitative"}}},
        {"data": {"name": "cInF"}, "mark": {"type": "rule", "color": "#222222", "strokeWidth": 1}, "encoding": {"x": {"field": "I0", "type": "quantitative"}, "y": {"field": "lo", "type": "quantitative"}, "y2": {"field": "hi"}}},
        {"data": {"name": "cInF"}, "mark": {"type": "tick", "orient": "horizontal", "size": 3, "thickness": 1, "color": "#222222"}, "encoding": {"x": {"field": "I0", "type": "quantitative"}, "y": {"field": "lo", "type": "quantitative"}}},
        {"data": {"name": "cInF"}, "mark": {"type": "tick", "orient": "horizontal", "size": 3, "thickness": 1, "color": "#222222"}, "encoding": {"x": {"field": "I0", "type": "quantitative"}, "y": {"field": "hi", "type": "quantitative"}}},
        {"data": {"name": "cInR"}, "mark": {"type": "rule", "color": "#e05060", "strokeWidth": 1}, "encoding": {"x": {"field": "I0", "type": "quantitative"}, "y": {"field": "lo", "type": "quantitative"}, "y2": {"field": "hi"}}},
        {"data": {"name": "cInR"}, "mark": {"type": "tick", "orient": "horizontal", "size": 3, "thickness": 1, "color": "#e05060"}, "encoding": {"x": {"field": "I0", "type": "quantitative"}, "y": {"field": "lo", "type": "quantitative"}}},
        {"data": {"name": "cInR"}, "mark": {"type": "tick", "orient": "horizontal", "size": 3, "thickness": 1, "color": "#e05060"}, "encoding": {"x": {"field": "I0", "type": "quantitative"}, "y": {"field": "hi", "type": "quantitative"}}},
        {"data": {"name": "one"}, "mark": {"type": "rule", "color": "#e05060", "strokeWidth": 1}, "encoding": {"x": {"datum": 0.8}, "y": {"datum": 23}, "y2": {"datum": 28}}},
        {"data": {"name": "one"}, "mark": {"type": "rule", "color": "#222222", "strokeWidth": 1}, "encoding": {"x": {"datum": 0.8}, "y": {"datum": 15}, "y2": {"datum": 20}}},
        {"data": {"name": "one"}, "mark": {"type": "text", "align": "left", "baseline": "middle", "fontSize": 7}, "encoding": {"x": {"datum": 2}, "y": {"datum": 25.5}, "text": {"value": "rising"}}},
        {"data": {"name": "one"}, "mark": {"type": "text", "align": "left", "baseline": "middle", "fontSize": 7}, "encoding": {"x": {"datum": 2}, "y": {"datum": 17.5}, "text": {"value": "falling"}}},
        {"data": {"name": "one"}, "mark": {"type": "text", "align": "left", "baseline": "middle", "fontSize": 7}, "encoding": {"x": {"datum": 0.5}, "y": {"datum": 8.3}, "text": {"value": "slope of SEC main peak"}}}
      ]}
     ],
     "resolve": {"scale": {"x": "independent", "y": "independent"}, "axis": {"x": "independent", "y": "independent"}}
    }
  ], "spacing": 60, "bounds": "flush"}
 ], "spacing": 41, "bounds": "flush"},
 {"hconcat": [
   {"width": 176, "height": 177,
    "layer": [
     {"data": {"name": "dBlue"}, "mark": {"type": "line", "color": "#1f2fd6", "strokeWidth": 1.6},
      "encoding": {
       "x": {"field": "R", "type": "quantitative", "scale": {"domain": [-0.76, 102.2], "nice": false, "zero": false}, "axis": {"values": [0, 20, 40, 60, 80, 100], "tickCount": 6, "title": "radial distance, R (Å)"}},
       "y": {"field": "P", "type": "quantitative", "scale": {"domain": [-0.07, 4.053], "nice": false, "zero": false}, "axis": {"values": [0, 1, 2, 3, 4], "tickCount": 5, "title": ["pair distribution function,", "P(R)  (10⁻³ Å⁻¹)"], "titlePadding": 5}}}},
     {"data": {"name": "dRed"}, "mark": {"type": "line", "color": "#e51c1c", "strokeWidth": 1.6}, "encoding": {"x": {"field": "R", "type": "quantitative"}, "y": {"field": "P", "type": "quantitative"}}},
     {"data": {"name": "dBlue"}, "transform": [{"filter": "datum.hi > datum.lo"}], "mark": {"type": "rule", "color": "#1f2fd6", "strokeWidth": 1}, "encoding": {"x": {"field": "R", "type": "quantitative"}, "y": {"field": "lo", "type": "quantitative"}, "y2": {"field": "hi"}}},
     {"data": {"name": "dBlue"}, "transform": [{"filter": "datum.hi > datum.lo"}], "mark": {"type": "tick", "orient": "horizontal", "size": 4, "thickness": 1, "color": "#1f2fd6"}, "encoding": {"x": {"field": "R", "type": "quantitative"}, "y": {"field": "lo", "type": "quantitative"}}},
     {"data": {"name": "dBlue"}, "transform": [{"filter": "datum.hi > datum.lo"}], "mark": {"type": "tick", "orient": "horizontal", "size": 4, "thickness": 1, "color": "#1f2fd6"}, "encoding": {"x": {"field": "R", "type": "quantitative"}, "y": {"field": "hi", "type": "quantitative"}}},
     {"data": {"name": "dRed"}, "transform": [{"filter": "datum.hi > datum.lo"}], "mark": {"type": "rule", "color": "#e8505a", "strokeWidth": 1}, "encoding": {"x": {"field": "R", "type": "quantitative"}, "y": {"field": "lo", "type": "quantitative"}, "y2": {"field": "hi"}}},
     {"data": {"name": "dRed"}, "transform": [{"filter": "datum.hi > datum.lo"}], "mark": {"type": "tick", "orient": "horizontal", "size": 4, "thickness": 1, "color": "#e8505a"}, "encoding": {"x": {"field": "R", "type": "quantitative"}, "y": {"field": "lo", "type": "quantitative"}}},
     {"data": {"name": "dRed"}, "transform": [{"filter": "datum.hi > datum.lo"}], "mark": {"type": "tick", "orient": "horizontal", "size": 4, "thickness": 1, "color": "#e8505a"}, "encoding": {"x": {"field": "R", "type": "quantitative"}, "y": {"field": "hi", "type": "quantitative"}}},
     {"data": {"name": "dBlue"}, "mark": {"type": "tick", "orient": "horizontal", "size": 5, "thickness": 1.2, "color": "#1f2fd6"}, "encoding": {"x": {"field": "R", "type": "quantitative"}, "y": {"field": "P", "type": "quantitative"}}},
     {"data": {"name": "dRed"}, "mark": {"type": "tick", "orient": "horizontal", "size": 5, "thickness": 1.2, "color": "#e51c1c"}, "encoding": {"x": {"field": "R", "type": "quantitative"}, "y": {"field": "P", "type": "quantitative"}}},
     {"data": {"name": "one"}, "mark": {"type": "text", "align": "left", "baseline": "middle", "fontSize": 10}, "encoding": {"x": {"datum": 60.7}, "y": {"datum": 3.58}, "text": {"value": "decomposed"}}},
     {"data": {"name": "one"}, "mark": {"type": "rule", "color": "#1f2fd6", "strokeWidth": 1.5}, "encoding": {"x": {"datum": 61.7}, "x2": {"datum": 69.4}, "y": {"datum": 3.31}}},
     {"data": {"name": "one"}, "mark": {"type": "rule", "color": "#e51c1c", "strokeWidth": 1.5}, "encoding": {"x": {"datum": 61.7}, "x2": {"datum": 69.4}, "y": {"datum": 3.05}}},
     {"data": {"name": "one"}, "mark": {"type": "rule", "color": "#1f2fd6", "strokeWidth": 1.2}, "encoding": {"x": {"datum": 65.5}, "y": {"datum": 3.24}, "y2": {"datum": 3.38}}},
     {"data": {"name": "one"}, "mark": {"type": "rule", "color": "#e51c1c", "strokeWidth": 1.2}, "encoding": {"x": {"datum": 65.5}, "y": {"datum": 2.98}, "y2": {"datum": 3.12}}},
     {"data": {"name": "one"}, "mark": {"type": "text", "align": "left", "baseline": "middle", "fontSize": 10}, "encoding": {"x": {"datum": 71.4}, "y": {"datum": 3.31}, "text": {"value": "monomer"}}},
     {"data": {"name": "one"}, "mark": {"type": "text", "align": "left", "baseline": "middle", "fontSize": 10}, "encoding": {"x": {"datum": 71.4}, "y": {"datum": 3.05}, "text": {"value": "dimer"}}},
     {"data": {"name": "one"}, "mark": {"type": "text", "align": "left", "baseline": "alphabetic", "fontSize": 30, "fontWeight": "bold"}, "encoding": {"x": {"datum": 5.4}, "y": {"datum": 3.49}, "text": {"value": "D"}}}
    ]},
   {"width": 176, "height": 177,
    "layer": [
     {"data": {"name": "eMonoFit"}, "mark": {"type": "line", "color": "#1f2fd6", "strokeWidth": 1.3, "strokeDash": [5, 3], "interpolate": "monotone"},
      "encoding": {
       "x": {"field": "x", "type": "quantitative", "scale": {"domain": [-0.094, 9.617], "nice": false, "zero": false}, "axis": {"values": [0, 2, 4, 6, 8], "tickCount": 5, "title": "q × Rg"}},
       "y": {"field": "y", "type": "quantitative", "scale": {"domain": [-0.002, 1.298], "nice": false, "zero": false}, "axis": {"values": [0, 0.2, 0.4, 0.6, 0.8, 1.0, 1.2], "tickCount": 7, "labelExpr": "datum.value == 0 ? '0' : format(datum.value, '.1f')", "title": "(q×Rg)² × I(q)/I₀", "titlePadding": 5}}}},
     {"data": {"name": "eDimFit"}, "mark": {"type": "line", "color": "#e51c1c", "strokeWidth": 1.3, "strokeDash": [5, 3], "interpolate": "monotone"}, "encoding": {"x": {"field": "x", "type": "quantitative"}, "y": {"field": "y", "type": "quantitative"}}},
     {"data": {"name": "eMono"}, "mark": {"type": "point", "shape": "circle", "filled": false, "color": "#1f2fd6", "size": 28, "strokeWidth": 1, "opacity": 1}, "encoding": {"x": {"field": "x", "type": "quantitative"}, "y": {"field": "y", "type": "quantitative"}}},
     {"data": {"name": "eDim"}, "mark": {"type": "point", "shape": "circle", "filled": false, "color": "#e51c1c", "size": 28, "strokeWidth": 1, "opacity": 1}, "encoding": {"x": {"field": "x", "type": "quantitative"}, "y": {"field": "y", "type": "quantitative"}}},
     {"data": {"name": "one"}, "mark": {"type": "text", "align": "left", "baseline": "middle", "fontSize": 10}, "encoding": {"x": {"datum": 4.01}, "y": {"datum": 1.156}, "text": {"value": "decomposed"}}},
     {"data": {"name": "one"}, "mark": {"type": "rule", "color": "#1f2fd6", "strokeWidth": 1.3, "strokeDash": [4, 2]}, "encoding": {"x": {"datum": 4.01}, "x2": {"datum": 4.75}, "y": {"datum": 1.072}}},
     {"data": {"name": "one"}, "mark": {"type": "rule", "color": "#e51c1c", "strokeWidth": 1.3, "strokeDash": [4, 2]}, "encoding": {"x": {"datum": 4.01}, "x2": {"datum": 4.75}, "y": {"datum": 0.987}}},
     {"data": {"name": "one"}, "mark": {"type": "point", "shape": "circle", "filled": false, "color": "#1f2fd6", "size": 28, "opacity": 1}, "encoding": {"x": {"datum": 4.38}, "y": {"datum": 1.072}}},
     {"data": {"name": "one"}, "mark": {"type": "point", "shape": "circle", "filled": false, "color": "#e51c1c", "size": 28, "opacity": 1}, "encoding": {"x": {"datum": 4.38}, "y": {"datum": 0.987}}},
     {"data": {"name": "one"}, "mark": {"type": "text", "align": "left", "baseline": "middle", "fontSize": 10}, "encoding": {"x": {"datum": 4.86}, "y": {"datum": 1.072}, "text": {"value": "monomer"}}},
     {"data": {"name": "one"}, "mark": {"type": "text", "align": "left", "baseline": "middle", "fontSize": 10}, "encoding": {"x": {"datum": 4.86}, "y": {"datum": 0.987}, "text": {"value": "dimer"}}},
     {"data": {"name": "one"}, "mark": {"type": "text", "align": "right", "baseline": "alphabetic", "fontSize": 30, "fontWeight": "bold"}, "encoding": {"x": {"datum": 9.45}, "y": {"datum": 1.046}, "text": {"value": "E"}}}
    ]}
 ], "spacing": 60, "bounds": "flush"}
],
"spacing": 15
}
